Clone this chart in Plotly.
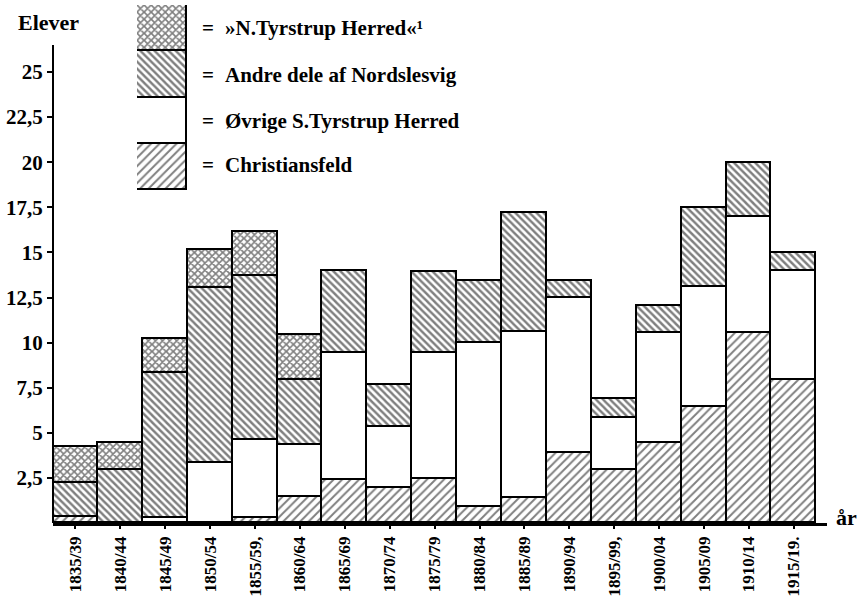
import plotly.graph_objects as go

# Five-year periods and pupil counts (Elever) by place of origin
periods = ["1835/39", "1840/44", "1845/49", "1850/54", "1855/59", "1860/64",
           "1865/69", "1870/74", "1875/79", "1880/84", "1885/89", "1890/94",
           "1895/99", "1900/04", "1905/09", "1910/14", "1915/19"]
period_labels = ["1835/39", "1840/44", "1845/49", "1850/54", "1855/59,", "1860/64",
                 "1865/69", "1870/74", "1875/79", "1880/84", "1885/89", "1890/94",
                 "1895/99,", "1900/04", "1905/09", "1910/14", "1915/19."]

christiansfeld = [0.33, 0, 0, 0, 0.28, 1.44, 2.38, 1.94, 2.44, 0.89, 1.39, 3.88,
                  2.94, 4.43, 6.43, 10.53, 7.93]
ovrige_s_tyrstrup = [0, 0, 0.3, 3.33, 4.32, 2.88, 7.04, 3.38, 6.98, 9.09, 9.2, 8.59,
                     2.88, 6.1, 6.65, 6.43, 6.04]
andre_nordslesvig = [1.89, 2.94, 8.0, 9.7, 9.09, 3.61, 4.55, 2.33, 4.49, 3.43, 6.59,
                     0.94, 1.05, 1.5, 4.38, 3.0, 1.0]
n_tyrstrup = [1.99, 1.5, 1.9, 2.1, 2.44, 2.49, 0, 0, 0, 0, 0, 0, 0, 0, 0, 0, 0]

y_tickvals = [2.5, 5, 7.5, 10, 12.5, 15, 17.5, 20, 22.5, 25]
y_ticktext = ["2,5", "5", "7,5", "10", "12,5", "15", "17,5", "20", "22,5", "25"]

series_names = ["Christiansfeld", "Øvrige S.Tyrstrup Herred",
                "Andre dele af Nordslesvig", "»N.Tyrstrup Herred«¹"]
series_values = [christiansfeld, ovrige_s_tyrstrup, andre_nordslesvig, n_tyrstrup]

SERIF = "Liberation Serif"
W, H = 863, 601
ML, MR, MT, MB = 53, 36, 5, 78
PW, PH = W - ML - MR, H - MT - MB
UNIT = 18.04  # pixels per pupil on the value axis

patterns = [
    dict(shape="/", size=6, solidity=0.32, fgcolor="black", bgcolor="white"),
    dict(shape="", fgcolor="black", bgcolor="white"),
    dict(shape="\\", size=5, solidity=0.48, fgcolor="black", bgcolor="white"),
    dict(shape="x", size=5, solidity=0.55, fgcolor="black", bgcolor="white"),
]


def px_x(px):
    return (px - ML) / PW


def px_y(py):
    return (H - MB - py) / PH


fig = go.Figure()
xs = list(range(len(periods)))
for name, vals, pat in zip(series_names, series_values, patterns):
    fig.add_trace(go.Bar(
        x=xs, y=[v if v > 0 else None for v in vals], name=name,
        width=1.0, marker=dict(color="white", pattern=pat,
                               line=dict(color="black", width=1.8)),
        hovertext=periods, showlegend=False,
    ))

# Key: a stack of four equal swatches beside the bars
for name, pat in zip(series_names, patterns):
    fig.add_trace(go.Bar(
        x=[0], y=[1], xaxis="x2", yaxis="y2", width=1.0, showlegend=False,
        marker=dict(color="white", pattern=pat, line=dict(color="black", width=1.8)),
        hoverinfo="name", name=name,
    ))

y_top = (H - MB - MT) / UNIT
x_end = -0.5 + PW / 44.9

fig.update_layout(
    width=W, height=H, margin=dict(l=ML, r=MR, t=MT, b=MB),
    barmode="stack", bargap=0, paper_bgcolor="white", plot_bgcolor="white",
    showlegend=False,
    xaxis=dict(range=[-0.5, x_end], tickvals=xs, ticktext=period_labels,
               tickangle=-90, showgrid=False, zeroline=False, showline=True,
               linecolor="black", linewidth=2.5, ticks="outside", ticklen=3,
               tickwidth=1.5, tickcolor="black", ticklabelstandoff=1,
               automargin=False,
               tickfont=dict(family=SERIF, size=17, color="black", weight="bold")),
    yaxis=dict(range=[0, y_top], tickvals=y_tickvals, ticktext=y_ticktext,
               showgrid=False, zeroline=False, showline=False, ticks="outside",
               ticklen=5, tickwidth=2, tickcolor="black", automargin=False,
               tickfont=dict(family=SERIF, size=21, color="black", weight="bold")),
    xaxis2=dict(domain=[px_x(137), px_x(187)], range=[-0.5, 0.5], visible=False,
                anchor="y2", fixedrange=True),
    yaxis2=dict(domain=[px_y(190), px_y(5)], range=[0, 4], visible=False,
                anchor="x2", fixedrange=True),
)

# Value axis line, stopping a little above the 25 mark
fig.add_shape(type="line", xref="paper", yref="y", x0=0, x1=0, y0=0, y1=26.5,
              line=dict(color="black", width=2))

fig.add_annotation(text="Elever", xref="paper", yref="paper", x=px_x(48), y=px_y(22),
                   showarrow=False, xanchor="center", yanchor="middle",
                   font=dict(family=SERIF, size=22, color="black", weight="bold"))
fig.add_annotation(text="år", xref="paper", yref="paper", x=px_x(847), y=px_y(517),
                   showarrow=False, xanchor="center", yanchor="middle",
                   font=dict(family=SERIF, size=22, color="black", weight="bold"))

key_rows = [165, 121, 75, 28]
for name, ry in zip(series_names, key_rows):
    fig.add_annotation(text="=", xref="paper", yref="paper", x=px_x(200), y=px_y(ry),
                       showarrow=False, xanchor="left", yanchor="middle",
                       font=dict(family=SERIF, size=21, color="black", weight="bold"))
    fig.add_annotation(text=name, xref="paper", yref="paper", x=px_x(223), y=px_y(ry),
                       showarrow=False, xanchor="left", yanchor="middle",
                       font=dict(family=SERIF, size=21, color="black", weight="bold"))

fig.write_html("out.html")
